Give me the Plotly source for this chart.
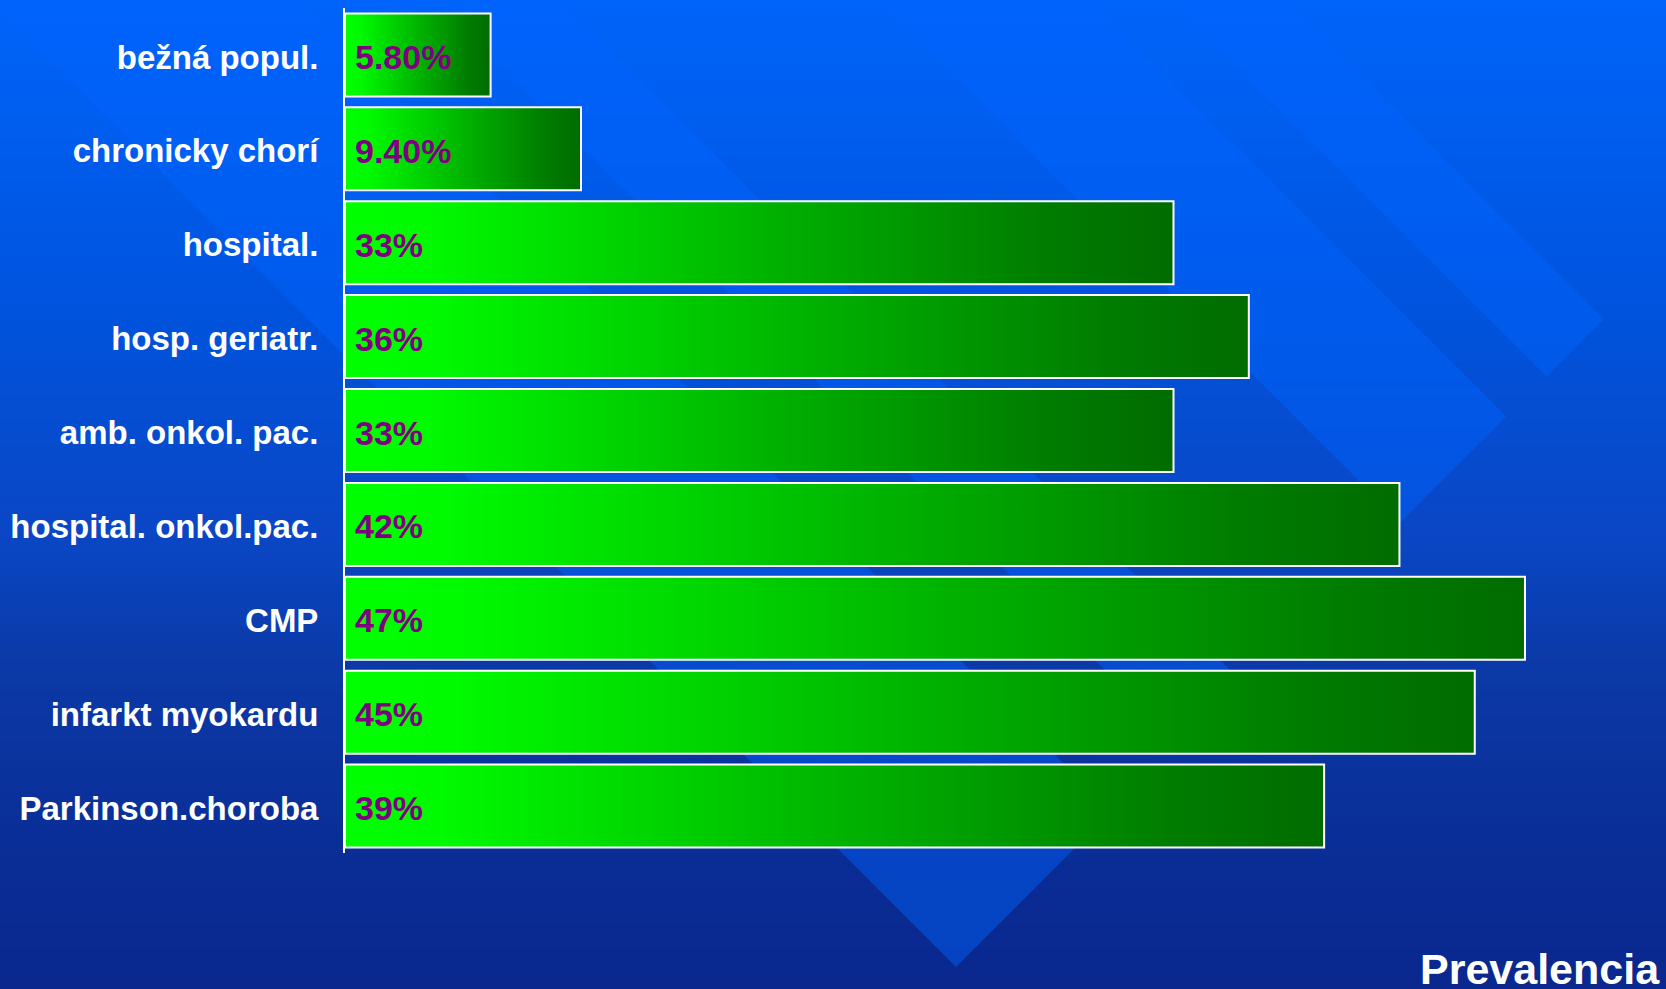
import plotly.graph_objects as go

# ---------------- data ----------------
categories = ["bežná popul.", "chronicky chorí", "hospital.", "hosp. geriatr.",
              "amb. onkol. pac.", "hospital. onkol.pac.", "CMP",
              "infarkt myokardu", "Parkinson.choroba"]
values = [5.8, 9.4, 33, 36, 33, 42, 47, 45, 39]
value_labels = ["5.80%", "9.40%", "33%", "36%", "33%", "42%", "47%", "45%", "39%"]
axis_title = "Prevalencia"

# ---------------- geometry / style ----------------
FW, FH = 1666, 989
L, R, T, B = 345, 0, 8, 136
PW, PH = FW - L - R, FH - T - B
XMAX = PW / 25.106          # ~25.1 px per percent
HALF = 0.442                # half bar thickness (category units)
FONT = "Liberation Sans, Arial, sans-serif"


def px_x(px):
    return (px - L) / PW


def px_y(py):
    return (T + PH - py) / PH


def lerp_color(stops, y):
    for (y0, c0), (y1, c1) in zip(stops, stops[1:]):
        if y0 <= y <= y1:
            t = (y - y0) / (y1 - y0)
            return tuple(round(a + (b - a) * t) for a, b in zip(c0, c1))
    return stops[-1][1]


bg_stops = [(0, (0, 100, 250)), (300, (0, 84, 222)), (540, (10, 70, 196)),
            (660, (11, 58, 168)), (850, (10, 45, 150)), (989, (10, 40, 142))]

shapes = []
N = 120
step = FH / N
for k in range(N):
    y0, y1 = k * step, (k + 1) * step + 0.8
    c = lerp_color(bg_stops, (y0 + y1) / 2)
    shapes.append(dict(type="rect", xref="paper", yref="paper",
                       x0=px_x(-40), x1=px_x(FW + 40), y0=px_y(y1), y1=px_y(y0),
                       fillcolor="rgb(%d,%d,%d)" % c, line=dict(width=0),
                       layer="below"))

# diagonal light bands of the slide background (x - y = const lines, capped by x + y = 1923)
CAP = 1923
for a, b in [(-11, 300), (435, 560), (878, 1090), (1170, 1285)]:
    pts = [(a, 0), (b, 0), ((CAP + b) / 2, (CAP - b) / 2), ((CAP + a) / 2, (CAP - a) / 2)]
    path = "M " + " L ".join("%.5f,%.5f" % (px_x(x), px_y(y)) for x, y in pts) + " Z"
    shapes.append(dict(type="path", xref="paper", yref="paper", path=path,
                       fillcolor="rgba(0,100,255,0.45)", line=dict(width=0),
                       layer="below"))

fig = go.Figure()

green_scale = [[0, "#00ff00"], [0.1, "#00fa00"], [0.5, "#00b400"],
               [0.85, "#007c00"], [1, "#006c00"]]

for i, (cat, v) in enumerate(zip(categories, values)):
    fig.add_trace(go.Scatter(
        x=[0, v, v, 0, 0],
        y=[i - HALF, i - HALF, i + HALF, i + HALF, i - HALF],
        mode="lines", fill="toself",
        fillgradient=dict(type="horizontal", colorscale=green_scale),
        line=dict(color="white", width=2),
        name=cat, hoverinfo="text", text=f"{cat}: {value_labels[i]}",
        showlegend=False,
    ))

# value labels placed at the start of each bar (data coordinates)
annotations = [dict(x=0, y=i, xref="x", yref="y", text=lab, showarrow=False,
                    xanchor="left", yanchor="middle", xshift=8, yshift=-2,
                    font=dict(family=FONT, size=34, color="#800080", weight="bold"))
               for i, lab in enumerate(value_labels)]

annotations.append(dict(text=axis_title, xref="paper", yref="paper",
                        x=px_x(1662), y=px_y(943), xanchor="right", yanchor="top",
                        showarrow=False,
                        font=dict(family=FONT, size=43, color="white", weight="bold")))

fig.update_layout(
    width=FW, height=FH,
    margin=dict(l=L, r=R, t=T, b=B, pad=0),
    paper_bgcolor="rgb(10,40,142)",
    plot_bgcolor="rgba(0,0,0,0)",
    shapes=shapes,
    showlegend=False,
    xaxis=dict(range=[0, XMAX], visible=False, fixedrange=True),
    yaxis=dict(range=[len(categories) - 0.5, -0.5], tickmode="array",
               tickvals=list(range(len(categories))), ticktext=categories,
               tickfont=dict(family=FONT, size=33, color="white", weight="bold"),
               showgrid=False, zeroline=False, ticks="",
               showline=True, linecolor="white", linewidth=2,
               ticklabelstandoff=18, ticklabelshift=-2, fixedrange=True),
    annotations=annotations,
)

fig.write_html("out.html", config={"displayModeBar": False},
               post_script="document.body.style.margin='0';document.body.style.overflow='hidden';")
